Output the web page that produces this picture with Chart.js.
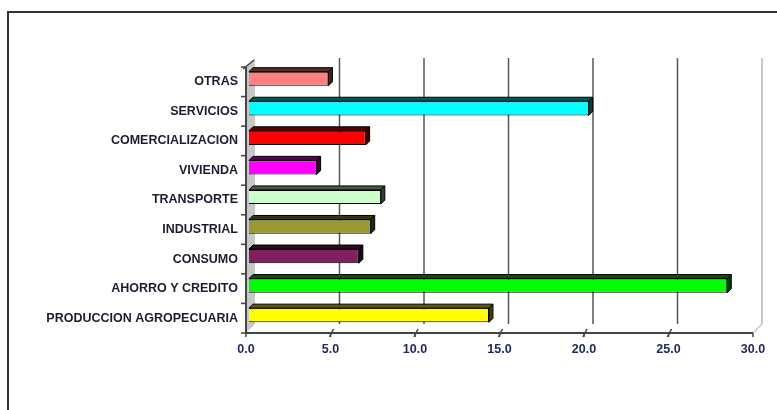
<!DOCTYPE html>
<html>
<head>
<meta charset="utf-8">
<script src="https://cdn.jsdelivr.net/npm/chart.js@4.4.1/dist/chart.umd.min.js"></script>
<style>
  html, body { margin: 0; padding: 0; background: #fff; }
  #wrap { width: 777px; height: 410px; }
</style>
</head>
<body>
<div id="wrap"><canvas id="myChart" width="777" height="410"></canvas></div>
<script>
// categories, top to bottom as in the picture
const categories = ['OTRAS', 'SERVICIOS', 'COMERCIALIZACION', 'VIVIENDA', 'TRANSPORTE',
    'INDUSTRIAL', 'CONSUMO', 'AHORRO Y CREDITO', 'PRODUCCION AGROPECUARIA'];
const values = [4.7, 20.1, 6.9, 4.0, 7.8, 7.2, 6.5, 28.3, 14.2];
const barColors = ['#FF8080', '#00FFFF', '#FF0000', '#FF00FF', '#CCFFCC',
    '#999933', '#802060', '#00FF00', '#FFFF00'];
const tickValues = [0, 5, 10, 15, 20, 25, 30];

const DX = 9, DY = -9;     // depth of the back wall
const BAR_D = 4;           // depth of each bar

function darken(hex, f) {
    var n = parseInt(hex.slice(1), 16);
    var r = Math.round(((n >> 16) & 255) * f);
    var g = Math.round(((n >> 8) & 255) * f);
    var b = Math.round((n & 255) * f);
    return 'rgb(' + r + ',' + g + ',' + b + ')';
}

const fake3d = {
    id: 'fake3d',
    beforeDraw(chart) {
        var c = chart.ctx;
        c.save();
        c.strokeStyle = '#333';
        c.lineWidth = 2;
        c.strokeRect(8, 12, 820, 500);
        c.restore();
    },
    beforeDatasetsDraw(chart) {
        var c = chart.ctx, a = chart.chartArea, xs = chart.scales.x;
        var L = a.left, R = a.right, T = a.top, B = a.bottom;
        c.save();
        // left wall
        c.fillStyle = '#c8c8c8';
        c.beginPath();
        c.moveTo(L, T); c.lineTo(L + DX, T + DY); c.lineTo(L + DX, B + DY); c.lineTo(L, B);
        c.closePath(); c.fill();
        // grid lines on back wall
        tickValues.forEach(function (v) {
            if (v === 0) return;
            var x = xs.getPixelForValue(v) + DX;
            c.strokeStyle = v === 30 ? '#c8c8c8' : '#555';
            c.lineWidth = v === 30 ? 2 : 1.5;
            c.beginPath(); c.moveTo(x, T + DY); c.lineTo(x, B + DY); c.stroke();
        });
        // floor edge at right
        c.strokeStyle = '#c8c8c8';
        c.lineWidth = 1.5;
        c.beginPath(); c.moveTo(R, B); c.lineTo(R + DX, B + DY); c.stroke();
        // front axes
        c.strokeStyle = '#444';
        c.lineWidth = 2;
        c.beginPath(); c.moveTo(L, T); c.lineTo(L, B); c.lineTo(R, B); c.stroke();
        c.lineWidth = 1.5;
        c.beginPath(); c.moveTo(L - 3, T + 2); c.lineTo(L + DX - 1, T + DY + 2); c.stroke();
        // category tick marks
        var step = (B - T) / categories.length;
        for (var i = 0; i <= categories.length; i++) {
            var y = T + i * step;
            c.beginPath(); c.moveTo(L - 5, y); c.lineTo(L, y); c.stroke();
        }
        // value tick marks
        tickValues.forEach(function (v) {
            var x = xs.getPixelForValue(v);
            c.beginPath(); c.moveTo(x, B + 4); c.lineTo(x, B); c.stroke();
            if (v > 0 && v < 30) {
                c.beginPath(); c.moveTo(x - 1, B + 4); c.lineTo(x + 3, B - 4); c.stroke();
            }
        });
        // bars sit in the middle of the depth
        c.translate(3, -3);
    },
    afterDatasetsDraw(chart) {
        var c = chart.ctx;
        var meta = chart.getDatasetMeta(0);
        meta.data.forEach(function (bar, i) {
            var p = bar.getProps(['x', 'y', 'base', 'height'], true);
            var top = p.y - p.height / 2, bot = p.y + p.height / 2;
            c.fillStyle = darken(barColors[i], 0.35);
            c.strokeStyle = '#000';
            c.lineWidth = 1;
            c.beginPath();
            c.moveTo(p.base, top); c.lineTo(p.base + BAR_D, top - BAR_D);
            c.lineTo(p.x + BAR_D, top - BAR_D); c.lineTo(p.x, top);
            c.closePath(); c.fill(); c.stroke();
            c.fillStyle = darken(barColors[i], 0.25);
            c.beginPath();
            c.moveTo(p.x, top); c.lineTo(p.x + BAR_D, top - BAR_D);
            c.lineTo(p.x + BAR_D, bot - BAR_D); c.lineTo(p.x, bot);
            c.closePath(); c.fill(); c.stroke();
        });
        c.restore();
    }
};

const ctx = document.getElementById('myChart');
const myChart = new Chart(ctx, {
    type: 'bar',
    data: {
        labels: categories,
        datasets: [{
            data: values,
            backgroundColor: barColors,
            borderColor: '#000',
            borderWidth: 1,
            barPercentage: 0.48,
            categoryPercentage: 1,
            clip: false
        }]
    },
    plugins: [fake3d],
    options: {
        indexAxis: 'y',
        responsive: false,
        animation: false,
        layout: { padding: { left: 0, top: 67, right: 24, bottom: 0 } },
        plugins: {
            legend: { display: false },
            tooltip: { enabled: false }
        },
        scales: {
            x: {
                type: 'linear',
                position: 'bottom',
                min: 0,
                max: 30,
                afterFit: function (s) { s.height = 77; },
                afterBuildTicks: function (s) {
                    s.ticks = tickValues.map(function (v) { return { value: v }; });
                },
                grid: { display: false, drawTicks: false },
                border: { display: false },
                ticks: {
                    padding: 9,
                    color: '#22285a',
                    font: { family: 'Liberation Sans, Arial, sans-serif', size: 12.5, weight: 'bold' },
                    callback: function (v) { return Number(v).toFixed(1); }
                }
            },
            y: {
                afterFit: function (s) { s.width = 246; },
                grid: { display: false, drawTicks: false },
                border: { display: false },
                ticks: {
                    padding: 8,
                    color: '#1c1c30',
                    autoSkip: false,
                    font: { family: 'Liberation Sans, Arial, sans-serif', size: 12.5, weight: 'bold' }
                }
            }
        }
    }
});
</script>
</body>
</html>
